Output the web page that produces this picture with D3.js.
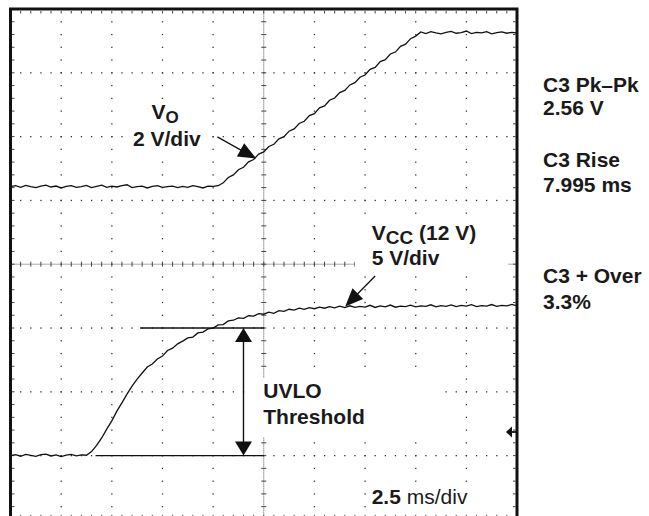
<!DOCTYPE html>
<html>
<head>
<meta charset="utf-8">
<script src="https://cdn.jsdelivr.net/npm/d3@7"></script>
<style>
  html, body { margin: 0; padding: 0; background: #fff; }
  svg { display: block; }
  text { font-family: "Liberation Sans", Arial, Helvetica, sans-serif; font-weight: bold; font-size: 21px; fill: #1a1a1a; }
</style>
</head>
<body>
<svg id="chart" width="649" height="516"></svg>
<script>
// ---------------- DATA ----------------
// time axis, ms (2.5 ms/div, trigger at centre)
const timeMs = [
  -12.5,-12.25,-12,-11.75,-11.5,-11.25,-11,-10.75,-10.5,-10.25,
  -10,-9.75,-9.5,-9.25,-9,-8.75,-8.5,-8.25,-8,-7.75,
  -7.5,-7.25,-7,-6.75,-6.5,-6.25,-6,-5.75,-5.5,-5.25,
  -5,-4.75,-4.5,-4.25,-4,-3.75,-3.5,-3.25,-3,-2.75,
  -2.5,-2.25,-2,-1.75,-1.5,-1.25,-1,-0.75,-0.5,-0.25,
  0,0.25,0.5,0.75,1,1.25,1.5,1.75,2,2.25,
  2.5,2.75,3,3.25,3.5,3.75,4,4.25,4.5,4.75,
  5,5.25,5.5,5.75,6,6.25,6.5,6.75,7,7.25,
  7.5,7.75,8,8.25,8.5,8.75,9,9.25,9.5,9.75,
  10,10.25,10.5,10.75,11,11.25,11.5,11.75,12,12.25,
  12.5
];
// V_O, volts (2 V/div)
const vOut = [
  0.00,0.03,-0.02,0.04,0.00,-0.03,0.02,0.05,-0.01,0.02,
  -0.04,0.01,0.03,-0.02,0.00,0.04,-0.03,0.01,0.05,-0.02,
  0.02,-0.01,0.03,0.06,-0.03,0.00,0.02,-0.04,0.01,0.03,
  -0.02,0.00,0.02,-0.03,0.01,-0.02,0.03,0.00,-0.04,0.02,
  0.01,
  0.03,0.12,0.29,0.37,0.53,0.61,0.78,0.85,1.02,1.09,
  1.26,1.33,1.50,1.57,1.74,1.81,1.98,2.05,2.23,2.29,
  2.47,2.53,2.71,2.78,2.95,3.02,3.19,3.26,3.43,3.50,
  3.68,3.74,3.92,3.98,4.16,4.22,4.40,4.47,4.64,4.72,
  4.85,4.80,4.86,4.82,4.79,4.84,4.87,4.81,4.83,4.88,
  4.80,4.84,4.82,4.86,4.79,4.83,4.85,4.81,4.84,4.82
];
// V_CC, volts (5 V/div)
const vCC = [
  0.00,0.08,-0.05,0.10,0.02,-0.06,0.07,0.12,-0.03,0.05,
  -0.08,0.04,0.09,-0.02,0.06,0.03,
  0.31,0.80,1.38,2.07,2.72,3.48,4.13,4.82,5.45,6.00,
  6.47,6.94,7.18,7.57,7.80,8.24,8.42,8.76,8.97,9.22,
  9.29,9.61,9.68,9.93,9.99,10.24,10.27,10.56,10.61,10.80,
  10.76,10.96,10.93,11.12,11.08,11.24,11.15,11.36,11.31,11.47,
  11.40,11.55,11.46,11.60,11.51,11.63,11.55,11.68,11.58,11.71,
  11.60,11.74,11.62,11.70,11.64,11.78,11.61,11.73,11.66,11.80,
  11.63,11.72,11.68,11.79,11.65,11.74,11.70,11.82,11.66,11.75,
  11.69,11.81,11.67,11.77,11.71,11.83,11.68,11.76,11.72,11.84,
  11.70,11.78,11.73,11.85,11.74
];
// UVLO threshold marker (on V_CC scale)
const uvloVolts = 10.0;
const uvloTopStartMs = -6.1, uvloBottomStartMs = -8.3, uvloEndMs = 0, uvloArrowMs = -1.0;
// annotation arrows: [startMs, startV, tipMs, tipV]
const vOutArrow = [-2.29, 1.56, -0.37, 0.88];
const vccArrow = [5.5, 14.07, 4.02, 11.69];
const triggerLevelVolts = 1.85;
// measurement read-outs
const readouts = [["C3 Pk\u2013Pk", "2.56 V"], ["C3 Rise", "7.995 ms"], ["C3 + Over", "3.3%"]];

// ---------------- SCALES ----------------
const svg = d3.select("#chart");
const x = d3.scaleLinear().domain([-12.5, 12.5]).range([10.5, 517]);
const yDiv = d3.scaleLinear().domain([-4, 4]).range([519.4, 9]);
const vOutGroundDiv = 1.215, vccGroundDiv = -3.0;
const yOut = d3.scaleLinear().domain([0, 2]).range([yDiv(vOutGroundDiv), yDiv(vOutGroundDiv + 1)]);
const yCC = d3.scaleLinear().domain([0, 5]).range([yDiv(vccGroundDiv), yDiv(vccGroundDiv + 1)]);

svg.append("rect").attr("width", 649).attr("height", 516).attr("fill", "#fff");

// ---------------- GRID ----------------
const g = svg.append("g");
const minorX = d3.range(-12.5, 12.5001, 0.5);
const minorY = d3.range(-4, 4.0001, 0.2);
const majorXs = d3.range(-10, 10.001, 2.5).filter(d => Math.abs(d) > 1e-6);
const majorYs = [-3, -2, -1, 1, 2, 3];
const dotColor = "#333";

majorXs.forEach(mx => {
  g.selectAll(null).data(minorY.slice(1, -1)).enter().append("rect")
    .attr("x", x(mx) - 0.6).attr("y", d => yDiv(d) - 0.6)
    .attr("width", 1.3).attr("height", 1.3).attr("fill", dotColor);
});
majorYs.forEach(my => {
  g.selectAll(null).data(minorX.slice(1, -1)).enter().append("rect")
    .attr("x", d => x(d) - 0.6).attr("y", yDiv(my) - 0.6)
    .attr("width", 1.3).attr("height", 1.3).attr("fill", dotColor);
});
// centre axes
g.append("line").attr("x1", x(-12.5)).attr("x2", x(12.5)).attr("y1", yDiv(0)).attr("y2", yDiv(0))
  .attr("stroke", "#555").attr("stroke-width", 1).attr("stroke-dasharray", "1,1");
g.append("line").attr("x1", x(0)).attr("x2", x(0)).attr("y1", yDiv(-4)).attr("y2", yDiv(4))
  .attr("stroke", "#555").attr("stroke-width", 1).attr("stroke-dasharray", "1,1");
g.selectAll(null).data(minorX).enter().append("line")
  .attr("x1", d => x(d)).attr("x2", d => x(d)).attr("y1", yDiv(0) - 2.5).attr("y2", yDiv(0) + 2.5)
  .attr("stroke", "#444").attr("stroke-width", 1);
g.selectAll(null).data(minorY).enter().append("line")
  .attr("y1", d => yDiv(d)).attr("y2", d => yDiv(d)).attr("x1", x(0) - 2.5).attr("x2", x(0) + 2.5)
  .attr("stroke", "#444").attr("stroke-width", 1);
// border ticks
g.selectAll(null).data(minorX).enter().append("line")
  .attr("x1", d => x(d)).attr("x2", d => x(d)).attr("y1", yDiv(4) + 2).attr("y2", yDiv(4) + 4.5)
  .attr("stroke", "#444").attr("stroke-width", 1);
g.selectAll(null).data(minorX).enter().append("line")
  .attr("x1", d => x(d)).attr("x2", d => x(d)).attr("y1", yDiv(-4) - 2).attr("y2", yDiv(-4) - 4.5)
  .attr("stroke", "#444").attr("stroke-width", 1);
g.selectAll(null).data(minorY).enter().append("line")
  .attr("y1", d => yDiv(d)).attr("y2", d => yDiv(d)).attr("x1", x(-12.5) + 1.5).attr("x2", x(-12.5) + 4)
  .attr("stroke", "#444").attr("stroke-width", 1);
g.selectAll(null).data(minorY).enter().append("line")
  .attr("y1", d => yDiv(d)).attr("y2", d => yDiv(d)).attr("x1", x(12.5) - 1.5).attr("x2", x(12.5) - 4)
  .attr("stroke", "#444").attr("stroke-width", 1);

// white label backgrounds (cover the graticule like the scope read-outs)
const boxes = [[131, 102, 73, 48], [355, 217, 153, 55], [252, 378, 193, 59], [368, 486, 108, 24]];
g.selectAll(null).data(boxes).enter().append("rect")
  .attr("x", d => d[0]).attr("y", d => d[1]).attr("width", d => d[2]).attr("height", d => d[3])
  .attr("fill", "#fff");

// ---------------- TRACES ----------------
const lineOut = d3.line().x((d, i) => x(timeMs[i])).y(d => yOut(d));
const lineCC = d3.line().x((d, i) => x(timeMs[i])).y(d => yCC(d));
svg.append("path").attr("d", lineOut(vOut)).attr("fill", "none").attr("stroke", "#111").attr("stroke-width", 1.3);
svg.append("path").attr("d", lineCC(vCC)).attr("fill", "none").attr("stroke", "#111").attr("stroke-width", 1.3);

// ---------------- UVLO MARKER ----------------
svg.append("line").attr("x1", x(uvloTopStartMs)).attr("x2", x(uvloEndMs))
  .attr("y1", yCC(uvloVolts)).attr("y2", yCC(uvloVolts)).attr("stroke", "#111").attr("stroke-width", 1.3);
svg.append("line").attr("x1", x(uvloBottomStartMs)).attr("x2", x(uvloEndMs))
  .attr("y1", yCC(0)).attr("y2", yCC(0)).attr("stroke", "#111").attr("stroke-width", 1.3);
const ax = x(uvloArrowMs), aTop = yCC(uvloVolts), aBot = yCC(0);
svg.append("line").attr("x1", ax).attr("x2", ax).attr("y1", aTop + 12).attr("y2", aBot - 12)
  .attr("stroke", "#111").attr("stroke-width", 1.4);
svg.append("path").attr("d", `M${ax},${aTop} L${ax - 8.5},${aTop + 14} L${ax + 8.5},${aTop + 14} Z`).attr("fill", "#111");
svg.append("path").attr("d", `M${ax},${aBot} L${ax - 8.5},${aBot - 14} L${ax + 8.5},${aBot - 14} Z`).attr("fill", "#111");

// ---------------- ANNOTATION ARROWS ----------------
function arrow(x0, y0, x1, y1) {
  const dx = x1 - x0, dy = y1 - y0, L = Math.hypot(dx, dy);
  const ux = dx / L, uy = dy / L, hl = 18, hw = 7.5;
  const bx = x1 - ux * hl, by = y1 - uy * hl;
  svg.append("line").attr("x1", x0).attr("y1", y0).attr("x2", bx + ux * 2).attr("y2", by + uy * 2)
    .attr("stroke", "#111").attr("stroke-width", 1.3);
  svg.append("path").attr("d",
    `M${x1},${y1} L${bx - uy * hw},${by + ux * hw} L${bx + uy * hw},${by - ux * hw} Z`).attr("fill", "#111");
}
arrow(x(vOutArrow[0]), yOut(vOutArrow[1]), x(vOutArrow[2]), yOut(vOutArrow[3]));
arrow(x(vccArrow[0]), yCC(vccArrow[1]), x(vccArrow[2]), yCC(vccArrow[3]));

// trigger level marker at right edge
const ty = yCC(triggerLevelVolts), tx = x(12.5);
svg.append("path").attr("d", `M${tx - 11},${ty} L${tx - 5},${ty - 5.5} L${tx - 5},${ty + 5.5} Z`).attr("fill", "#111");
svg.append("line").attr("x1", tx - 6).attr("x2", tx).attr("y1", ty).attr("y2", ty).attr("stroke", "#111").attr("stroke-width", 1.8);

// ---------------- BORDER ----------------
svg.append("rect").attr("x", x(-12.5)).attr("y", yDiv(4))
  .attr("width", x(12.5) - x(-12.5)).attr("height", yDiv(-4) - yDiv(4))
  .attr("fill", "none").attr("stroke", "#111").attr("stroke-width", 3);

// ---------------- TEXT ----------------
const t1 = svg.append("text").attr("x", 151.5).attr("y", 119).text("V");
t1.append("tspan").attr("dy", 3.5).style("font-size", "17px").text("O");
svg.append("text").attr("x", 133).attr("y", 145.5).text("2 V/div");

const t2 = svg.append("text").attr("x", 371.7).attr("y", 240).text("V");
t2.append("tspan").attr("dy", 4).style("font-size", "19px").text("CC");
t2.append("tspan").attr("dy", -4).text(" (12 V)");
svg.append("text").attr("x", 371.7).attr("y", 265).text("5 V/div");

svg.append("text").attr("x", 263.3).attr("y", 398.3).text("UVLO");
svg.append("text").attr("x", 263.3).attr("y", 424).text("Threshold");

const t3 = svg.append("text").attr("x", 371.7).attr("y", 504.3).text("2.5");
t3.append("tspan").style("font-weight", "normal").text(" ms/div");

const readoutY = [[91.5, 115], [167, 192], [283, 308.5]];
readouts.forEach((r, i) => {
  svg.append("text").attr("x", 543).attr("y", readoutY[i][0]).text(r[0]);
  svg.append("text").attr("x", 543).attr("y", readoutY[i][1]).text(r[1]);
});
</script>
</body>
</html>
